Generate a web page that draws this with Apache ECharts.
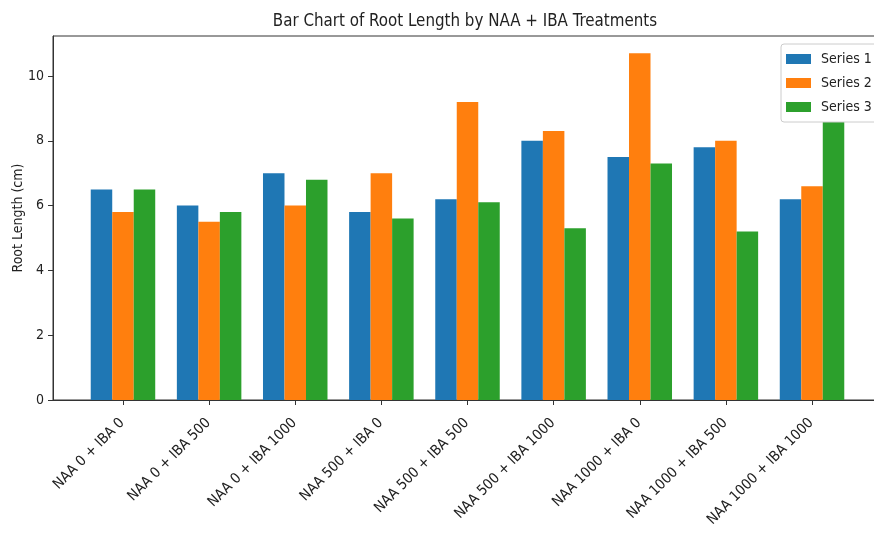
<!DOCTYPE html>
<html>
<head>
<meta charset="UTF-8">
<title>Root Length by NAA + IBA</title>
<script src="https://cdn.jsdelivr.net/npm/echarts@6/dist/echarts.min.js"></script>
</head>
<body style="margin:0">
<div id="main" style="width:874px;height:540px"></div>
<script>
// treatment groups and root lengths (cm)
var categories = ['NAA 0 + IBA 0', 'NAA 0 + IBA 500', 'NAA 0 + IBA 1000',
    'NAA 500 + IBA 0', 'NAA 500 + IBA 500', 'NAA 500 + IBA 1000',
    'NAA 1000 + IBA 0', 'NAA 1000 + IBA 500', 'NAA 1000 + IBA 1000'];
var series1 = [6.5, 6.0, 7.0, 5.8, 6.2, 8.0, 7.5, 7.8, 6.2];
var series2 = [5.8, 5.5, 6.0, 7.0, 9.2, 8.3, 10.7, 8.0, 6.6];
var series3 = [6.5, 5.8, 6.8, 5.6, 6.1, 5.3, 7.3, 5.2, 8.9];
var yTicks = [0, 2, 4, 6, 8, 10];

var font = "'DejaVu Sans Condensed', 'DejaVu Sans'";
var ink = '#222';

function pairs(vals) {
    return vals.map(function (v, i) { return [i, v]; });
}
var idx = categories.map(function (c, i) { return i; });

var chart = echarts.init(document.getElementById('main'));
chart.setOption({
    animation: false,
    backgroundColor: '#fff',
    title: {
        text: 'Bar Chart of Root Length by NAA + IBA Treatments',
        left: 460, top: 8, textAlign: 'center',
        textStyle: {fontFamily: font, fontSize: 16.8, fontWeight: 'normal', color: ink}
    },
    grid: {
        left: 53, top: 36, width: 829, height: 364,
        outerBoundsMode: 'none',
        show: true, borderColor: '#333', borderWidth: 1
    },
    legend: {
        orient: 'vertical', left: 781, top: 44,
        padding: [8, 8, 8, 5], itemGap: 10,
        itemWidth: 25, itemHeight: 10,
        backgroundColor: '#fff', borderColor: '#ccc', borderWidth: 1, borderRadius: 3,
        icon: 'rect',
        textStyle: {fontFamily: font, fontSize: 14, color: ink, padding: [0, 0, 0, 5]},
        data: ['Series 1', 'Series 2', 'Series 3']
    },
    xAxis: {
        type: 'value', min: -0.8125, max: 8.8125,
        splitLine: {show: false},
        axisLine: {show: true, onZero: false, lineStyle: {color: '#333', width: 1}},
        axisTick: {show: true, length: 5, customValues: idx, lineStyle: {color: '#333'}},
        axisLabel: {
            customValues: idx, rotate: 45, margin: 20, padding: [0, 1, 0, 0],
            fontFamily: font, fontSize: 14.5, color: ink,
            formatter: function (v) { return categories[Math.round(v)]; }
        }
    },
    yAxis: {
        type: 'value', min: 0, max: 11.235,
        name: 'Root Length (cm)', nameLocation: 'middle', nameGap: 28,
        nameMoveOverlap: false,
        nameTextStyle: {fontFamily: font, fontSize: 14, color: ink},
        splitLine: {show: false},
        axisLine: {show: true, onZero: false, lineStyle: {color: '#333', width: 1}},
        axisTick: {show: true, length: 5, customValues: yTicks, lineStyle: {color: '#333'}},
        axisLabel: {customValues: yTicks, margin: 9, fontFamily: font, fontSize: 14, color: ink}
    },
    series: [
        {name: 'Series 1', type: 'bar', data: pairs(series1), barWidth: 21.5, barGap: '0%',
            itemStyle: {color: '#1f77b4'}},
        {name: 'Series 2', type: 'bar', data: pairs(series2), barWidth: 21.5, barGap: '0%',
            itemStyle: {color: '#ff7f0e'}},
        {name: 'Series 3', type: 'bar', data: pairs(series3), barWidth: 21.5, barGap: '0%',
            itemStyle: {color: '#2ca02c'}}
    ]
});
</script>
</body>
</html>
